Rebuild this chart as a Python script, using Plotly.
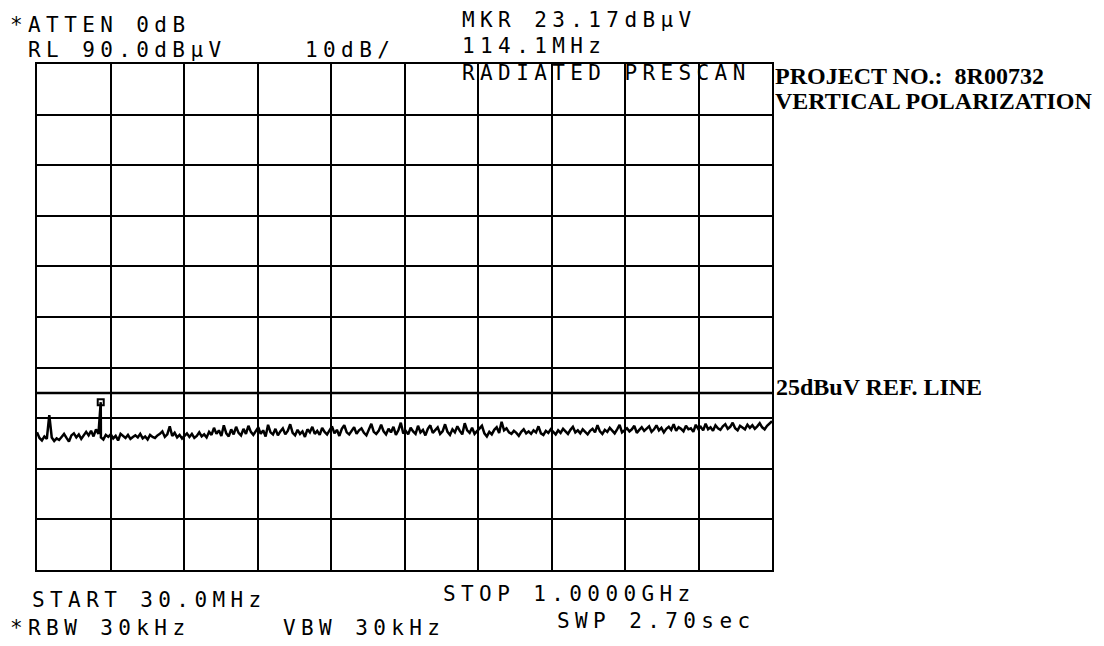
import plotly.graph_objects as go

# ---------------- data ----------------
START_MHZ = 30.0
STOP_MHZ = 1000.0
REF_LEVEL = 90.0      # dBuV, top of screen
DB_PER_DIV = 10.0
N_DIV = 10
REF_LINE_DB = 25.0
MARKER_FREQ = 114.1
MARKER_DB = 23.17

trace_db = [
    17.2, 16.1, 15.6, 16.4, 15.9, 20.6, 16.2, 15.5, 16.0, 15.7,
    16.3, 16.9, 16.1, 15.4, 16.6, 17.0, 16.2, 16.8, 15.9, 16.5,
    17.3, 16.6, 17.5, 16.4, 17.8, 16.9, 16.2, 15.8, 16.7, 16.3,
    16.8, 16.0, 16.5, 15.6, 16.9, 16.4, 16.1, 16.7, 15.9, 16.3,
    16.6, 16.2, 16.9, 16.0, 16.4, 15.8, 16.7, 16.3, 16.1, 16.6,
    16.9, 17.4, 16.3, 16.8, 18.4, 16.5, 17.1, 16.2, 16.7, 16.0,
    16.6, 17.0, 16.3, 16.9, 16.1, 16.5, 17.2, 16.4, 16.8, 16.2,
    17.3, 16.7, 18.1, 16.9, 17.6, 16.5, 18.6, 17.0, 16.4, 17.8,
    16.8, 18.3, 17.1, 16.6, 17.9, 16.9, 18.5, 17.3, 16.7, 17.5,
    18.2, 16.9, 17.6, 16.4, 18.7, 17.2, 16.8, 17.9, 16.6, 17.4,
    18.0, 16.8, 17.5, 18.8, 17.1, 16.6, 17.7, 16.9, 17.4, 16.3,
    17.8, 17.2, 18.3, 16.9, 17.5, 16.7, 18.1, 17.3, 16.8, 17.6,
    18.4, 17.0, 17.7, 16.5, 17.9, 18.6, 17.2, 16.8, 17.5, 18.2,
    16.9, 17.6, 18.0, 17.1, 16.6, 17.8, 18.9, 17.3, 16.9, 17.5,
    18.7, 17.4, 16.8, 17.9, 17.2, 18.3, 16.7, 17.6, 19.1, 17.0,
    17.5, 16.8, 18.1, 17.4, 16.9, 18.5, 17.2, 17.7, 16.6, 17.9,
    18.6, 17.1, 17.6, 18.2, 16.9, 17.4, 18.8, 17.3, 16.7, 17.8,
    17.2, 18.4, 17.5, 16.8, 19.0, 17.6, 17.1, 18.1, 16.9, 17.4,
    17.8, 18.5, 17.0, 16.4, 17.3, 16.8, 17.7, 18.2, 17.1, 19.3,
    17.6, 18.0, 17.2, 16.9, 17.5, 17.1, 16.5, 17.3, 17.8, 17.0,
    17.4, 16.9, 17.6, 17.2, 18.4, 17.0, 16.7, 17.5, 17.1, 17.8,
    17.3, 16.8, 17.6, 17.1, 17.9, 17.4, 16.9, 17.7, 18.3, 17.2,
    17.6, 17.0, 17.8, 17.3, 16.8, 17.5, 17.9, 17.2, 18.6, 17.4,
    16.9, 17.7, 17.3, 18.1, 17.5, 17.0, 17.8, 18.7, 17.2, 17.6,
    18.0, 17.4, 17.8, 18.5, 17.1, 17.7, 18.2, 17.5, 17.9, 18.4,
    17.3, 17.8, 18.6, 17.6, 18.1, 17.2, 17.9, 18.3, 17.7, 18.8,
    17.5, 18.2, 17.9, 17.4, 18.5, 17.8, 18.0, 17.3, 18.7, 17.9,
    18.3, 17.6, 18.9, 17.8, 18.2, 17.5, 18.6, 18.0, 17.7, 18.4,
    18.8, 17.9, 18.3, 19.1, 18.0, 17.6, 18.5, 18.2, 17.8, 18.7,
    18.1, 18.6, 17.9, 18.4, 19.0, 18.2, 17.8, 18.5, 18.9, 19.4,
]

header_left = ["*ATTEN 0dB", "RL 90.0dBµV", "10dB/"]
header_marker = ["MKR 23.17dBµV", "114.1MHz"]
screen_title = "RADIATED PRESCAN"
footer = ["START 30.0MHz", "*RBW 30kHz", "VBW 30kHz", "STOP 1.0000GHz", "SWP 2.70sec"]
side_notes = ["PROJECT NO.:\u00a0 8R00732", "VERTICAL POLARIZATION"]
ref_label = "25dBuV REF. LINE"

# ---------------- build ----------------
n = len(trace_db)
step = (STOP_MHZ - START_MHZ) / (n - 1)
freqs = [START_MHZ + i * step for i in range(n)]
pts = sorted(list(zip(freqs, trace_db)) + [(MARKER_FREQ, MARKER_DB)])
fx = [p[0] for p in pts]
fy = [p[1] for p in pts]

bottom_db = REF_LEVEL - N_DIV * DB_PER_DIV

W, H = 1104, 646
L, R, T, B = 37, 332, 64, 76
PW, PH = W - L - R, H - T - B

def px(x):
    return (x - L) / PW

def py(y):
    return (H - B - y) / PH

fig = go.Figure()
fig.add_trace(go.Scatter(x=[START_MHZ, STOP_MHZ], y=[REF_LINE_DB, REF_LINE_DB],
                         mode="lines", line=dict(color="black", width=2.5),
                         hoverinfo="skip", showlegend=False))
fig.add_trace(go.Scatter(x=fx, y=fy, mode="lines",
                         line=dict(color="black", width=2.5), showlegend=False))
fig.add_trace(go.Scatter(x=[MARKER_FREQ], y=[MARKER_DB], mode="markers",
                         marker=dict(symbol="square-open", size=6, color="black",
                                     line=dict(width=2, color="black")),
                         showlegend=False))

MONO = "DejaVu Sans Mono"
SERIF = "Liberation Serif"
ann = []

def mono(text, x, y):
    ann.append(dict(text=text, x=px(x), y=py(y), xref="paper", yref="paper",
                    xanchor="left", yanchor="middle", align="left", showarrow=False,
                    font=dict(family=MONO, size=21, color="black")))

def serif(text, x, y):
    ann.append(dict(text="<b>" + text + "</b>", x=px(x), y=py(y), xref="paper", yref="paper",
                    xanchor="left", yanchor="middle", align="left", showarrow=False,
                    font=dict(family=SERIF, size=24, color="black")))

mono(header_left[0], 8, 25)
mono(header_left[1], 26, 50)
mono(header_left[2], 303, 50)
mono(header_marker[0], 460, 20)
mono(header_marker[1], 460, 46)
mono(screen_title, 460, 73)
mono(footer[0], 30, 600)
mono(footer[1], 8, 628)
mono(footer[2], 281, 628)
mono(footer[3], 441, 594)
mono(footer[4], 555, 621)
serif(side_notes[0], 773, 76)
serif(side_notes[1], 773, 101)
serif(ref_label, 774, 387)

fig.update_layout(
    width=W, height=H,
    margin=dict(l=L, r=R, t=T, b=B),
    paper_bgcolor="white", plot_bgcolor="white",
    annotations=ann,
    showlegend=False,
)
fig.update_xaxes(range=[START_MHZ, STOP_MHZ], tick0=START_MHZ,
                 dtick=(STOP_MHZ - START_MHZ) / N_DIV,
                 showgrid=True, gridcolor="black", gridwidth=1.5,
                 showline=True, linecolor="black", linewidth=2, mirror=True,
                 showticklabels=False, ticks="", zeroline=False)
fig.update_yaxes(range=[bottom_db, REF_LEVEL], tick0=bottom_db, dtick=DB_PER_DIV,
                 showgrid=True, gridcolor="black", gridwidth=1.5,
                 showline=True, linecolor="black", linewidth=2, mirror=True,
                 showticklabels=False, ticks="", zeroline=False)

js = """
var gd = document.getElementById('{plot_id}');
document.body.style.margin = '0';
function spaceText(){
  gd.querySelectorAll('.annotation-text').forEach(function(t){
    var ff = t.style.fontFamily || '';
    if (ff.indexOf('Mono') >= 0) { t.style.letterSpacing = '5.4px'; }
  });
}
spaceText();
gd.on('plotly_afterplot', spaceText);
"""

fig.write_html("out.html", post_script=js, config={"displayModeBar": False})
